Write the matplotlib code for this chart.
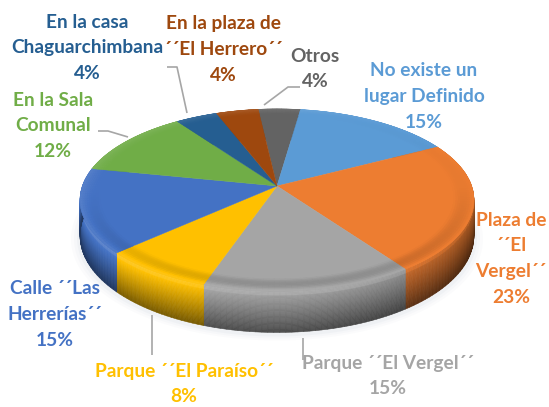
import numpy as np
import matplotlib
matplotlib.use("Agg")
import matplotlib.pyplot as plt
from matplotlib.collections import PolyCollection
from matplotlib.colors import to_rgb

plt.rcParams['font.family'] = ['Lato', 'DejaVu Sans']

categories = ["Otros", "No existe un\nlugar Definido", "Plaza de\n´´El\nVergel´´", "Parque ´´El Vergel´´",
              "Parque ´´El Paraíso´´", "Calle ´´Las\nHerrerías´´", "En la Sala\nComunal",
              "En la casa\nChaguarchimbana", "En la plaza de\n´´El Herrero´´"]
values = [4, 15, 23, 15, 8, 15, 12, 4, 4]
colors = ["#636363", "#5B9BD5", "#ED7D31", "#A5A5A5", "#FFC000", "#4472C4", "#70AD47", "#255E91", "#9E480E"]
text_colors = colors
label_pos = [(315, 56), (424, 71), (511, 220), (388, 363), (184, 371), (55, 289), (53, 100), (87, 22), (223, 24)]

W, H = 549, 407
CX, CY, A, B, P, DEPTH = 277, 186, 194.6, 88.9, 0.154, 35
START = 8.0
LINE_H = 25.8

fig = plt.figure(figsize=(W / 100, H / 100), dpi=100)
ax = fig.add_axes([0, 0, 1, 1])
ax.set_xlim(0, W)
ax.set_ylim(H, 0)
ax.axis("off")


def project(theta, r=1.0, t=0.0):
    u, v = r * np.sin(theta), r * np.cos(theta)
    w = 1 + P * v
    return np.column_stack([CX + A * u / w, CY - B * v / w + t * DEPTH / w])


def shade(rgb, f):
    rgb = np.array(rgb)
    if f <= 1:
        return tuple(rgb * f)
    return tuple(rgb + (1 - rgb) * min(f - 1, 1))


# soft ground shadow
all_th = np.linspace(0, 2 * np.pi, 240)
for grow, al in [(1.045, .03), (1.03, .04), (1.015, .06)]:
    pts = project(all_th, grow, 1.05)
    ax.fill(pts[:, 0], pts[:, 1], color="#8f9fb0", alpha=al, lw=0, zorder=1)

# angular extent of slices, from the values
frac = np.array(values, float) / np.sum(values)
edges = np.radians(START - 360 * frac[0]) + np.concatenate([[0], np.cumsum(frac)]) * 2 * np.pi

# side wall
polys, cols = [], []
layers = np.linspace(0, 1, 36)
for i, c in enumerate(colors):
    rgb = to_rgb(c)
    ths = np.linspace(edges[i], edges[i + 1], max(4, int(values[i] * 2.5)))
    for a0, a1 in zip(ths[:-1], ths[1:]):
        mid = (a0 + a1) / 2
        u = np.sin(mid)
        light = 1 - 0.32 * max(u, 0) ** 1.5 + 0.10 * max(-u, 0)
        for t0, t1 in zip(layers[:-1], layers[1:]):
            tm = (t0 + t1) / 2
            f = (1.0 - 0.55 * tm ** 1.1) * light
            if tm < 0.12:
                f += 0.08
            p0 = project(np.array([a0, a1]), 1, t0)
            p1 = project(np.array([a1, a0]), 1, t1)
            polys.append(np.vstack([p0, p1]))
            cols.append(shade(rgb, f))
ax.add_collection(PolyCollection(polys, facecolors=cols, edgecolors=cols, linewidths=0.4, zorder=2))

# top face
for i, c in enumerate(colors):
    th = np.linspace(edges[i], edges[i + 1], 60)
    rim = project(th)
    apex = project(np.array([0.0]), 0.0)
    pts = np.vstack([apex, rim])
    ax.fill(pts[:, 0], pts[:, 1], color=c, lw=0.3, zorder=3)

# bevel ring on the top face
polys, cols = [], []
rings = np.linspace(0.90, 1.0, 10)
for i, c in enumerate(colors):
    rgb = to_rgb(c)
    ths = np.linspace(edges[i], edges[i + 1], max(4, int(values[i] * 2.5)))
    for a0, a1 in zip(ths[:-1], ths[1:]):
        mid = (a0 + a1) / 2
        front = max(-np.cos(mid), 0)
        side = np.sin(mid)
        for r0, r1 in zip(rings[:-1], rings[1:]):
            s = ((r0 + r1) / 2 - 0.90) / 0.10
            f = 1 - 0.16 * front * np.sin(np.pi * s) + 0.10 * s * s
            f -= 0.10 * max(side, 0) * s
            p0 = project(np.array([a0, a1]), r0)
            p1 = project(np.array([a1, a0]), r1)
            polys.append(np.vstack([p0, p1]))
            cols.append(shade(rgb, f))
ax.add_collection(PolyCollection(polys, facecolors=cols, edgecolors=cols, linewidths=0.3, zorder=4))

# leader lines
leaders = [[(167, 67), (177, 67), (187, 113)], [(300, 87), (288, 87), (264, 105)],
           [(98, 131), (108, 131), (128, 137)], [(152, 315), (152, 355)], [(303, 338), (303, 360)]]
for line in leaders:
    xs, ys = zip(*line)
    ax.plot(xs, ys, color="#A6A6A6", lw=1.2, zorder=5, solid_capstyle="butt")

# labels
for name, val, col, (x, y) in zip(categories, values, text_colors, label_pos):
    lines = name.split("\n") + [f"{val}%"]
    for k, s in enumerate(lines):
        ax.text(x, y + k * LINE_H, s, color=col, ha="center", va="center",
                fontsize=13.8, fontweight="bold", zorder=6)

fig.savefig("out.png", dpi=100)
